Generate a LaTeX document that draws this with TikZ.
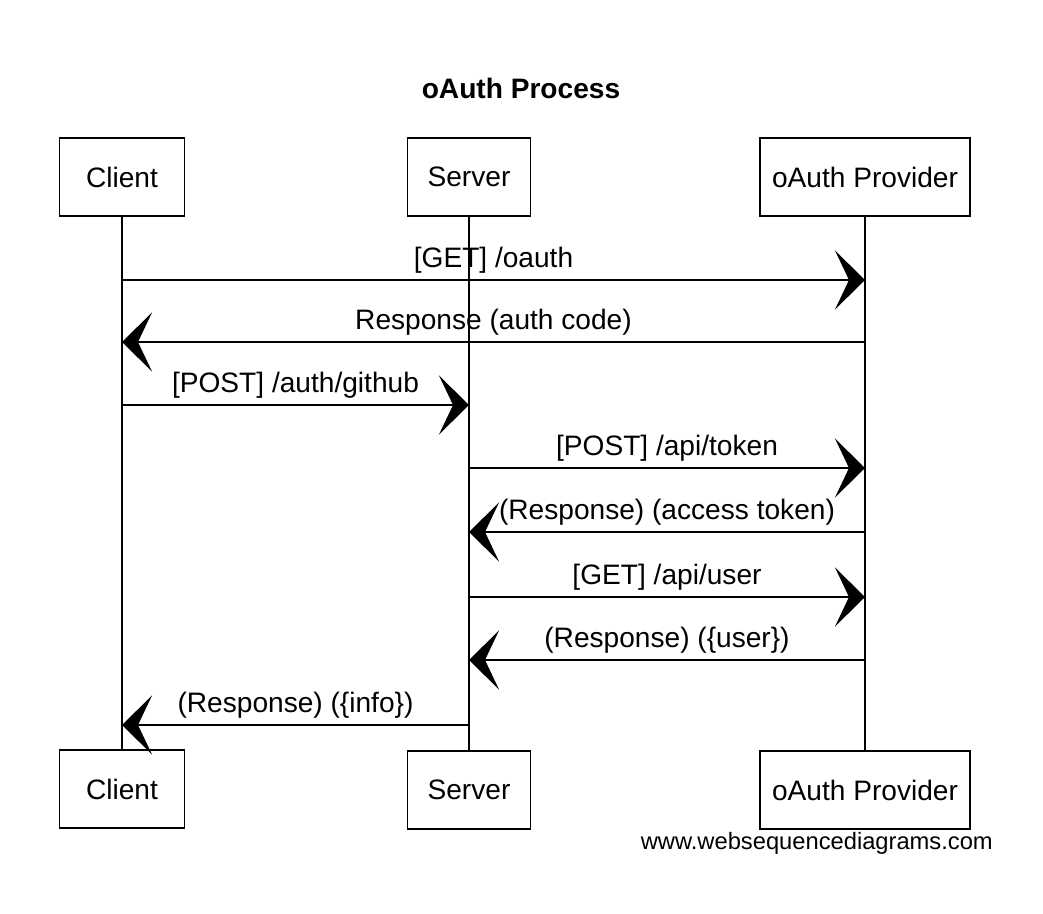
\documentclass[tikz,border=0pt]{standalone}
\usepackage{fontspec}
\setmainfont{Liberation Sans}
\usetikzlibrary{arrows.meta}

\tikzset{
	actor/.style = {draw, fill=white, line width=1.1pt, minimum height=1.56cm, font=\fontsize{16}{19}\selectfont},
	msg/.style = {line width=1.2pt, -{Stealth[length=0.6cm, width=1.18cm, inset=0.28cm]}},
	lbl/.style = {above, inner sep=3pt, font=\fontsize{16}{19}\selectfont},
	life/.style = {line width=0.7pt}
}

\begin{document}
\begin{tikzpicture}[x=0.02cm, y=-0.02cm]
	\useasboundingbox (0,0) rectangle (1043,913);

	\node[font=\bfseries\fontsize{16}{19}\selectfont] (title) at (521,88) {oAuth Process};

	% participants, top and bottom
	\node[actor, minimum width=2.5cm] (client) at (122,177) {Client};
	\node[actor, minimum width=2.46cm] (server) at (469,177) {Server};
	\node[actor, minimum width=4.2cm] (provider) at (865,177) {oAuth Provider};

	\node[actor, minimum width=2.5cm] (clientB) at (122,789) {Client};
	\node[actor, minimum width=2.46cm] (serverB) at (469,790) {Server};
	\node[actor, minimum width=4.2cm] (providerB) at (865,790) {oAuth Provider};

	\draw[life] (client) -- (clientB);
	\draw[life] (server) -- (serverB);
	\draw[life] (provider) -- (providerB);

	% message rows
	\coordinate (m1) at (0,280);
	\coordinate (m2) at (0,342);
	\coordinate (m3) at (0,405);
	\coordinate (m4) at (0,468);
	\coordinate (m5) at (0,532);
	\coordinate (m6) at (0,597);
	\coordinate (m7) at (0,660);
	\coordinate (m8) at (0,725);

	\draw[msg] (client |- m1) -- node[lbl] {[GET] /oauth} (provider |- m1);
	\draw[msg] (provider |- m2) -- node[lbl] {Response (auth code)} (client |- m2);
	\draw[msg] (client |- m3) -- node[lbl] {[POST] /auth/github} (server |- m3);
	\draw[msg] (server |- m4) -- node[lbl] {[POST] /api/token} (provider |- m4);
	\draw[msg] (provider |- m5) -- node[lbl] {(Response) (access token)} (server |- m5);
	\draw[msg] (server |- m6) -- node[lbl] {[GET] /api/user} (provider |- m6);
	\draw[msg] (provider |- m7) -- node[lbl] {(Response) (\{user\})} (server |- m7);
	\draw[msg] (server |- m8) -- node[lbl] {(Response) (\{info\})} (client |- m8);

	\node[anchor=east, font=\fontsize{13.5}{16}\selectfont] (site) at (999,843) {www.websequencediagrams.com};
\end{tikzpicture}
\end{document}
